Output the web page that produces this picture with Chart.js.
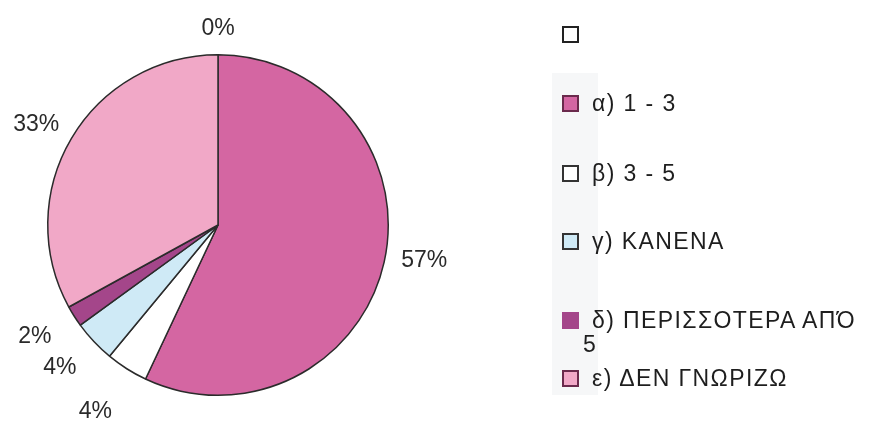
<!DOCTYPE html>
<html>
<head>
<meta charset="utf-8">
<script src="https://cdn.jsdelivr.net/npm/chart.js@4"></script>
<style>
  body { margin: 0; background: #fff; }
  #wrap { position: relative; width: 873px; height: 428px; overflow: hidden; }
  #pie { position: absolute; left: 0; top: 0; }
  #shade { position: absolute; left: 552px; top: 73px; width: 46px; height: 322px; background: #f6f7f8; }
  .item { position: absolute; left: 562px; width: 311px; padding-left: 21px; box-sizing: border-box;
          font-family: "Liberation Sans", Arial, sans-serif; font-size: 23px; letter-spacing: 1.4px;
          color: #1e1e1e; line-height: 24px; }
  .item .txt { display: block; text-indent: 9px; }
  .item .box { position: absolute; left: 0; top: 4px; width: 13px; height: 13px; border: 2px solid #222; }
</style>
</head>
<body>
<div id="wrap">
  <div id="shade"></div>
  <canvas id="pie" width="873" height="428"></canvas>
</div>
<script>
// categories and values (percent)
const categories = ['', 'α) 1 - 3', 'β) 3 - 5', 'γ) ΚΑΝΕΝΑ', 'δ) ΠΕΡΙΣΣΟΤΕΡΑ ΑΠΌ 5', 'ε) ΔΕΝ ΓΝΩΡΙΖΩ'];
const percents = [0, 57, 4, 4, 2, 33];
const sliceColors = ['#ffffff', '#d466a2', '#ffffff', '#cfeaf6', '#a4468a', '#f1a8c7'];

// legend rows (top of each row), html so the long label can wrap like the original
const legendTops = [22, 91, 161, 229, 308, 366];
const legendBorders = ['#222', '#6a2a4c', '#333', '#333', '#a4468a', '#6a2a4c'];

const wrap = document.getElementById('wrap');
categories.forEach((name, i) => {
    const item = document.createElement('div');
    item.className = 'item';
    item.style.top = legendTops[i] + 'px';
    const box = document.createElement('span');
    box.className = 'box';
    box.style.background = sliceColors[i];
    box.style.borderColor = legendBorders[i];
    const txt = document.createElement('span');
    txt.className = 'txt';
    txt.textContent = name;
    item.appendChild(box);
    item.appendChild(txt);
    wrap.appendChild(item);
});

// Plugin to write the % labels just outside each slice
const outsideLabels = {
    id: 'outsideLabels',
    afterDatasetsDraw(chart) {
        const ctx = chart.ctx;
        const meta = chart.getDatasetMeta(0);
        ctx.save();
        ctx.font = '23px "Liberation Sans", Arial, sans-serif';
        ctx.fillStyle = '#2a2a2a';
        ctx.textAlign = 'center';
        ctx.textBaseline = 'middle';
        meta.data.forEach((arc, i) => {
            const p = arc.getProps(['x', 'y', 'startAngle', 'endAngle', 'outerRadius'], true);
            const mid = (p.startAngle + p.endAngle) / 2;
            const dx = Math.cos(mid), dy = Math.sin(mid);
            const text = percents[i] + '%';
            const w = ctx.measureText(text).width;
            const h = 17;
            let gap = 18;
            if (percents[i] > 0 && percents[i] < 10) gap = dy > 0.8 ? 42 : 30;
            const x = p.x + dx * (p.outerRadius + gap) + dx * w / 2;
            const y = p.y + dy * (p.outerRadius + gap) + dy * h / 2 - (i === 1 ? 7 : 0);
            ctx.fillText(text, x, y);
        });
        ctx.restore();
    }
};

const ctx = document.getElementById('pie').getContext('2d');
new Chart(ctx, {
    type: 'pie',
    data: {
        labels: categories,
        datasets: [{
            data: percents,
            backgroundColor: sliceColors,
            borderColor: '#2b2b2b',
            borderWidth: 1.5
        }]
    },
    options: {
        responsive: false,
        animation: false,
        layout: { padding: { left: 47, right: 484, top: 54, bottom: 32 } },
        plugins: {
            legend: { display: false },
            tooltip: { enabled: false }
        }
    },
    plugins: [outsideLabels]
});
</script>
</body>
</html>
